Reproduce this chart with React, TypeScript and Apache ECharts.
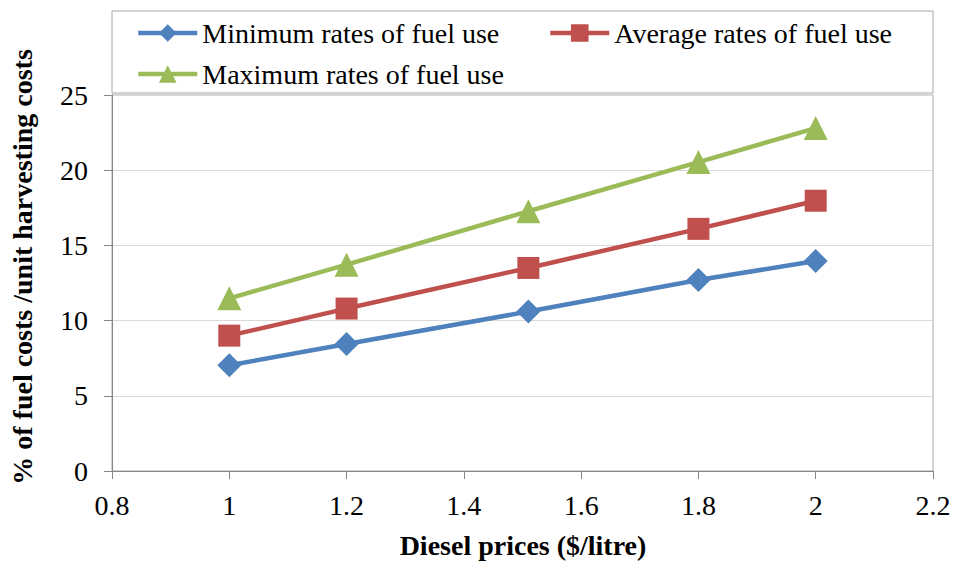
import React, { useEffect, useRef } from "react";
import * as echarts from "echarts";

const dieselPrices = [1, 1.2, 1.51, 1.8, 2];
const minimumRates = [7.03, 8.44, 10.6, 12.7, 13.96];
const averageRates = [9.0, 10.8, 13.5, 16.1, 17.97];
const maximumRates = [11.48, 13.72, 17.27, 20.54, 22.8];
const seriesNames = [
  "Minimum rates of fuel use",
  "Average rates of fuel use",
  "Maximum rates of fuel use",
];
const xAxisTitle = "Diesel prices ($/litre)";
const yAxisTitle = "% of fuel costs /unit harvesting costs";

const FONT = "'Liberation Serif', 'Times New Roman', serif";
const COLORS = ["#4F81BD", "#C0504D", "#9BBB59"];

export default function App() {
  const ref = useRef<HTMLDivElement>(null);

  useEffect(() => {
    if (!ref.current) return;
    const chart = echarts.init(ref.current, undefined, { renderer: "svg" });
    const pair = (ys: number[]) => dieselPrices.map((x, i) => [x, ys[i]]);
    const legendBase = {
      orient: "horizontal" as const,
      itemWidth: 59,
      itemHeight: 22,
      itemGap: 5,
      lineStyle: { width: 4.5 },
      textStyle: { fontFamily: FONT, fontSize: 28, color: "#000" },
      padding: 0,
    };
    const mkSeries = (i: number, data: number[], symbol: string, size: number) => ({
      name: seriesNames[i],
      type: "line",
      data: pair(data),
      symbol,
      symbolSize: size,
      lineStyle: { color: COLORS[i], width: 4.5 },
      itemStyle: { color: COLORS[i] },
      z: 3 + i,
    });
    chart.setOption({
      animation: false,
      backgroundColor: "#fff",
      grid: {
        left: 112,
        right: 23,
        top: 95,
        bottom: 91,
        show: true,
        borderColor: "#A6A6A6",
        borderWidth: 1,
      },
      legend: [
        { ...legendBase, data: [seriesNames[0]], left: 136, top: 19 },
        { ...legendBase, data: [seriesNames[1]], left: 548, top: 19 },
        { ...legendBase, data: [seriesNames[2]], left: 136, top: 60 },
      ],
      xAxis: {
        type: "value",
        min: 0.8,
        max: 2.2,
        interval: 0.2,
        axisLine: { show: true, lineStyle: { color: "#868686", width: 1 } },
        axisTick: { show: true, length: 8, lineStyle: { color: "#868686" } },
        splitLine: { show: false },
        axisLabel: {
          fontFamily: FONT,
          fontSize: 28,
          color: "#000",
          margin: 20,
          showMinLabel: true,
          showMaxLabel: true,
          formatter: (v: number) => String(Math.round(v * 10) / 10),
        },
      },
      yAxis: {
        type: "value",
        min: 0,
        max: 25,
        interval: 5,
        axisLine: { show: true, lineStyle: { color: "#868686", width: 1 } },
        axisTick: { show: true, length: 8, lineStyle: { color: "#868686" } },
        splitLine: { show: true, lineStyle: { color: "#D9D9D9", width: 1 } },
        axisLabel: {
          fontFamily: FONT,
          fontSize: 28,
          color: "#000",
          margin: 24,
        },
      },
      series: [
        mkSeries(0, minimumRates, "diamond", 24),
        mkSeries(1, averageRates, "rect", 22),
        mkSeries(2, maximumRates, "triangle", 24),
      ],
      graphic: [
        {
          type: "rect",
          shape: { x: 112, y: 11, width: 821, height: 82 },
          style: { fill: "none", stroke: "#A6A6A6", lineWidth: 1 },
          silent: true,
          z: 1,
        },
        {
          type: "text",
          x: 523,
          y: 545,
          style: {
            text: xAxisTitle,
            fontFamily: FONT,
            fontSize: 28,
            fontWeight: "bold",
            fill: "#000",
            align: "center",
            verticalAlign: "middle",
          },
        },
        {
          type: "text",
          x: 22,
          y: 267,
          rotation: Math.PI / 2,
          style: {
            text: yAxisTitle,
            fontFamily: FONT,
            fontSize: 28,
            fontWeight: "bold",
            fill: "#000",
            align: "center",
            verticalAlign: "middle",
          },
        },
      ],
    });
    return () => chart.dispose();
  }, []);

  return (
    <div
      ref={ref}
      style={{ position: "fixed", left: 0, top: 0, width: 956, height: 562 }}
    />
  );
}
